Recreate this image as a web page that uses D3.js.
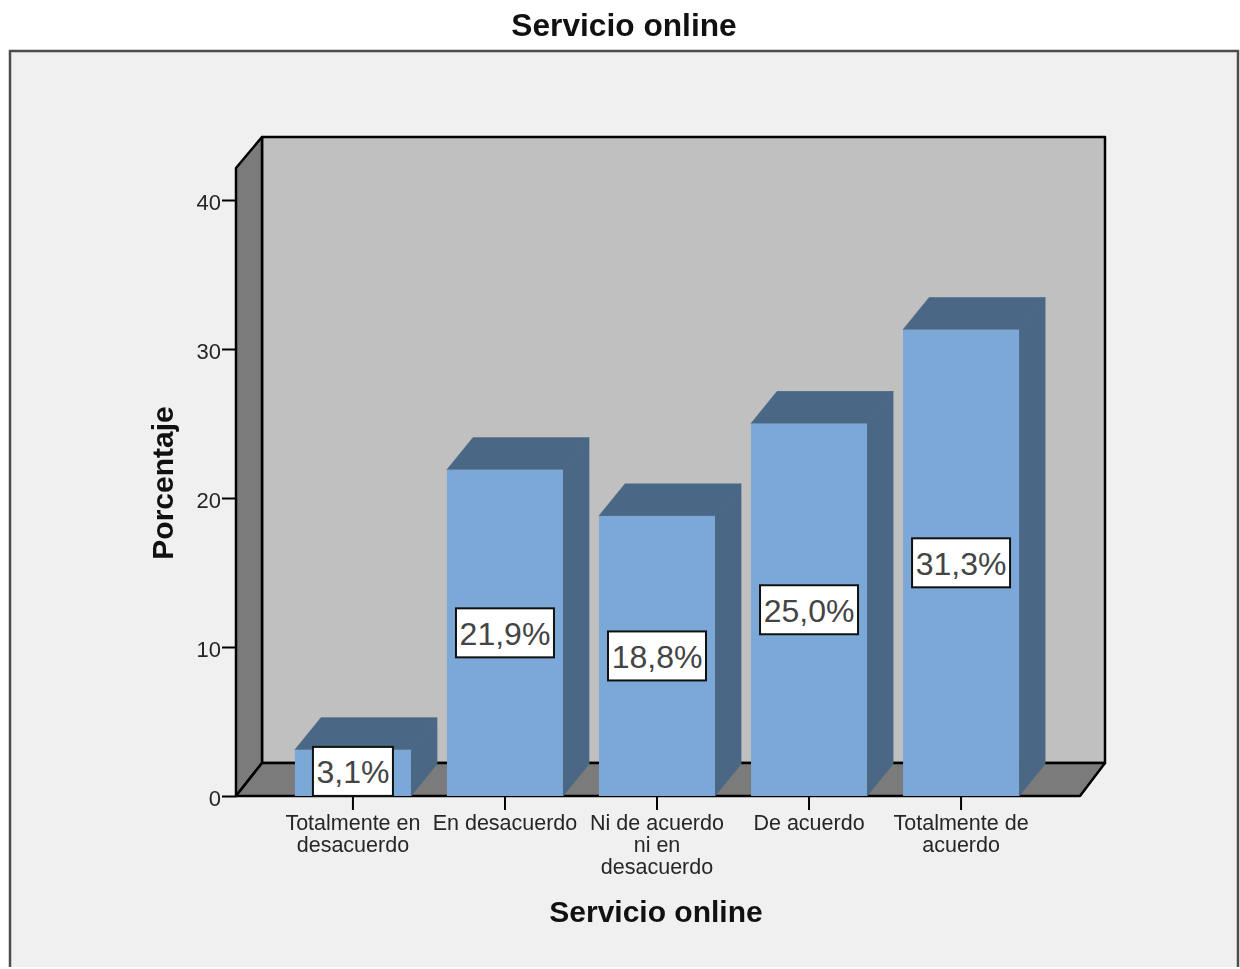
<!DOCTYPE html>
<html><head><meta charset="utf-8">
<script src="https://cdn.jsdelivr.net/npm/d3@7"></script>
<style>
html,body{margin:0;padding:0;background:#fff}
svg{display:block;filter:blur(0.55px)}
text{font-family:"Liberation Sans",Arial,sans-serif}
</style></head><body>
<svg id="c" width="1240" height="969"></svg>
<script>
const chartTitle = "Servicio online";
const xTitle = "Servicio online";
const yTitle = "Porcentaje";
const categories = ["Totalmente en\ndesacuerdo","En desacuerdo","Ni de acuerdo\nni en\ndesacuerdo","De acuerdo","Totalmente de\nacuerdo"];
const values = [3.1,21.9,18.8,25.0,31.3];
const yTicks = [0,10,20,30,40];

const svg = d3.select("#c");
const ink = "#000", txt = "#262626";
const depthX = 26, depthY = -32;
const y = d3.scaleLinear().domain([0,40]).range([796,200]);
const x = d3.scaleBand().domain(categories).range([277,1037]).paddingInner(0.237).paddingOuter(0.118);
const xc = d => x(d)+x.bandwidth()/2;
const poly = p => p.map(q=>q.join(",")).join(" ");

// frame
svg.append("rect").attr("x",10).attr("y",51).attr("width",1228).attr("height",916).attr("fill","#f0f0f0");
svg.append("path").attr("d","M10,967V51H1238V967").attr("fill","none").attr("stroke","#4d4d4d").attr("stroke-width",2.5);

// title
svg.append("text").attr("x",624).attr("y",36).attr("text-anchor","middle")
  .attr("font-size",31.7).attr("font-weight","bold").attr("fill","#111").text(chartTitle);

// 3D box
const L=236,R=1080,B=y(0),T=168;
const wall = svg.append("g").attr("stroke",ink).attr("stroke-width",2.5).attr("stroke-linejoin","round");
wall.append("polygon").attr("points",poly([[L+depthX,T+depthY+1],[R+depthX-1,T+depthY+1],[R+depthX-1,B+depthY-1],[L+depthX,B+depthY-1]])).attr("fill","#c0c0c0");
wall.append("polygon").attr("points",poly([[L,T],[L+depthX,T+depthY+1],[L+depthX,B+depthY-1],[L,B]])).attr("fill","#7b7b7b");
wall.append("polygon").attr("points",poly([[L,B],[L+depthX,B+depthY-1],[R+depthX-1,B+depthY-1],[R,B]])).attr("fill","#7b7b7b");

// bars
const bars = svg.append("g").selectAll("g").data(categories).join("g");
bars.append("polygon").attr("fill","#4a6885").attr("stroke","#4a6885").attr("stroke-width",0.8).attr("points",(d,i)=>{
  const a=x(d),b=a+x.bandwidth(),t=y(values[i]);
  return poly([[a,t],[a+depthX,t+depthY],[b+depthX,t+depthY],[b,t]]);
});
bars.append("polygon").attr("fill","#4a6885").attr("stroke","#4a6885").attr("stroke-width",0.8).attr("points",(d,i)=>{
  const b=x(d)+x.bandwidth(),t=y(values[i]);
  return poly([[b,t],[b+depthX,t+depthY],[b+depthX,B+depthY],[b,B]]);
});
bars.append("rect").attr("fill","#7ba8d7").attr("x",d=>x(d)).attr("width",x.bandwidth())
  .attr("y",(d,i)=>y(values[i])).attr("height",(d,i)=>B-y(values[i]));

// axes
const yAxis = d3.axisLeft(y).tickValues(yTicks).tickSize(14).tickPadding(1);
const gy = svg.append("g").attr("transform",`translate(${L},0)`).call(yAxis);
gy.select(".domain").remove();
gy.selectAll("line").attr("stroke",ink).attr("stroke-width",2);
gy.selectAll("text").attr("font-size",22).attr("fill",txt).attr("dy","0.45em").style("font-family",'"Liberation Sans",Arial,sans-serif');

const xAxis = d3.axisBottom(x).tickSize(14).tickFormat("");
const gx = svg.append("g").attr("transform",`translate(0,${B})`).call(xAxis);
gx.select(".domain").remove();
gx.selectAll("line").attr("stroke",ink).attr("stroke-width",2);
gx.selectAll(".tick").select("text").remove();
gx.selectAll(".tick").append("text").attr("text-anchor","middle").attr("font-size",21.5).attr("fill",txt)
  .style("font-family",'"Liberation Sans",Arial,sans-serif')
  .each(function(d){
    d3.select(this).selectAll("tspan").data(d.split("\n")).join("tspan")
      .attr("x",0).attr("y",(t,i)=>34+i*22).text(t=>t);
  });

// value labels
const fmt = v => d3.format(".1f")(v).replace(".",",")+"%";
const lab = svg.append("g").selectAll("g").data(categories).join("g")
  .attr("transform",(d,i)=>`translate(${xc(d)},${(y(values[i])+B)/2 + (i===0?-1.5:0)})`);
lab.append("rect").attr("fill","#fff").attr("stroke","#111").attr("stroke-width",2)
  .attr("x",(d,i)=>values[i]<10?-40:-49).attr("width",(d,i)=>values[i]<10?80:98).attr("y",-24.5).attr("height",49);
lab.append("text").attr("text-anchor","middle").attr("y",12).attr("font-size",32).attr("fill","#444")
  .text((d,i)=>fmt(values[i]));

// axis titles
svg.append("text").attr("x",656).attr("y",922).attr("text-anchor","middle")
  .attr("font-size",30).attr("font-weight","bold").attr("fill","#111").text(xTitle);
svg.append("text").attr("transform","translate(173,483) rotate(-90)").attr("text-anchor","middle")
  .attr("font-size",30).attr("font-weight","bold").attr("fill","#111").text(yTitle);
</script>
</body></html>
